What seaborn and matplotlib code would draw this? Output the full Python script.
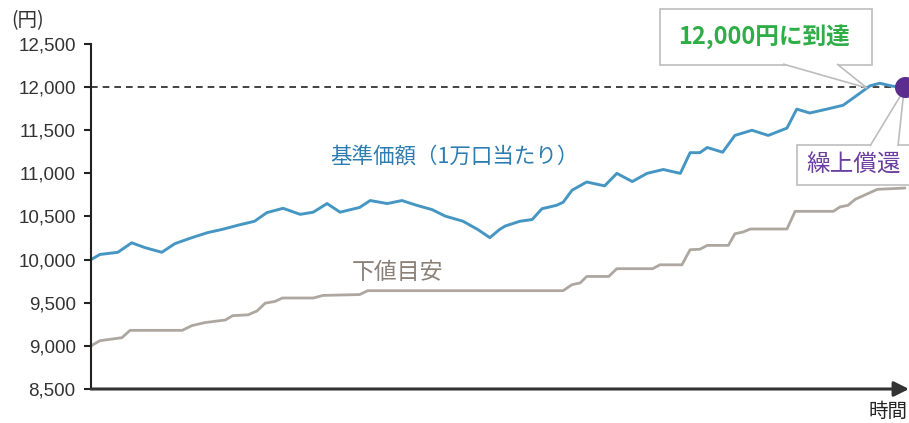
import pandas as pd
import matplotlib.pyplot as plt
import seaborn as sns
from matplotlib.patches import Rectangle, Polygon
from matplotlib.ticker import FuncFormatter

sns.set_style("white")
plt.rcParams['font.family'] = ['Liberation Sans', 'Noto Sans CJK JP', 'DejaVu Sans']
JP = ['Noto Sans CJK JP', 'DejaVu Sans']

# Data (time is an index 0-100 along the axis)
nav_t = [0, 1.1, 3.3, 5.0, 6.6, 8.7, 10.3, 12.4, 14.4, 16.1, 18.1, 20.1, 21.6, 23.6,
         25.7, 27.3, 29.0, 30.6, 33.0, 34.3, 36.4, 38.2, 40.0, 41.9, 43.5, 45.7, 47.5,
         49.0, 50.2, 50.9, 52.7, 54.2, 55.4, 57.2, 58.0, 59.1, 60.9, 63.1, 64.6, 66.5,
         68.3, 70.3, 72.4, 73.6, 74.8, 75.7, 77.6, 79.1, 81.2, 83.2, 85.5, 86.7, 88.3,
         90.4, 92.4, 94.1, 95.7, 96.9, 98.5, 100]
nav = [10000, 10060, 10085, 10195, 10140, 10085, 10185, 10255, 10315, 10350, 10400,
       10445, 10545, 10595, 10525, 10550, 10650, 10550, 10605, 10685, 10650, 10685,
       10630, 10580, 10505, 10445, 10350, 10255, 10350, 10390, 10445, 10465, 10590,
       10630, 10665, 10805, 10900, 10855, 11000, 10905, 11000, 11045, 11000, 11240,
       11240, 11300, 11245, 11440, 11500, 11440, 11525, 11745, 11700, 11745, 11790,
       11905, 12015, 12045, 12010, 12000]

floor_t = [0, 1.1, 3.8, 4.8, 11.2, 12.4, 14.0, 16.5, 17.4, 19.3, 20.4, 21.4, 22.6,
           23.5, 27.3, 28.5, 33.0, 34.0, 58.0, 59.1, 60.1, 60.9, 63.6, 64.6, 69.0,
           69.9, 72.6, 73.6, 74.8, 75.7, 78.3, 79.1, 80.1, 81.0, 85.5, 86.5, 91.2,
           92.0, 93.0, 93.9, 96.6, 100]
floor = [9000, 9060, 9095, 9180, 9180, 9235, 9270, 9300, 9350, 9360, 9405, 9495, 9515,
         9555, 9555, 9585, 9595, 9640, 9640, 9710, 9730, 9805, 9805, 9895, 9895, 9940,
         9940, 10115, 10120, 10165, 10165, 10300, 10320, 10355, 10355, 10560, 10560,
         10610, 10630, 10700, 10815, 10830]

target = 12000
yticks = [8500, 9000, 9500, 10000, 10500, 11000, 11500, 12000, 12500]

df_nav = pd.DataFrame({'t': nav_t, 'v': nav})
df_floor = pd.DataFrame({'t': floor_t, 'v': floor})

W, H = 909, 423
fig = plt.figure(figsize=(W / 100, H / 100), dpi=100)
ax = fig.add_axes([91 / W, 34 / H, 818 / W, 345 / H])


def px(x, y):
    # top-left pixel position -> figure fraction
    return (x / W, 1 - y / H)


sns.lineplot(data=df_floor, x='t', y='v', color='#ADA7A0', lw=2, ax=ax)
sns.lineplot(data=df_nav, x='t', y='v', color='#4596C2', lw=2.1, ax=ax)
ax.axhline(target, xmin=0, xmax=100 / 100.49, color='#222222', lw=1.2,
           ls=(0, (4, 3)), zorder=1)
ax.scatter([nav_t[-1]], [nav[-1]], s=200, color='#5B2D8E', zorder=9, clip_on=False)

ax.set_xlim(0, 818 / 8.14)
ax.set_ylim(8500, 12500)
ax.set_yticks(yticks)
ax.yaxis.set_major_formatter(FuncFormatter(lambda v, p: f'{int(v):,}'))
ax.set_xticks([])
ax.set_xlabel('')
ax.set_ylabel('')
for s in ['top', 'right', 'bottom']:
    ax.spines[s].set_visible(False)
ax.spines['left'].set_color('#222222')
ax.spines['left'].set_linewidth(1.5)
ax.tick_params(axis='y', left=True, length=5, width=1.5, color='#222222',
               labelsize=13.5, labelcolor='#333333', pad=6)

# time axis arrow
ax.annotate('', xy=(1, 0), xytext=(0, 0), xycoords='axes fraction',
            textcoords='axes fraction',
            arrowprops=dict(arrowstyle='-|>,head_length=0.9,head_width=0.45',
                            color='#333333', lw=2.2, shrinkA=0, shrinkB=0))
fig.text(*px(908, 422), '時間', ha='right', va='bottom',
         fontsize=14, color='#222222', family=JP)
fig.text(*px(11, 21), '(円)', ha='left', va='center',
         fontsize=14, color='#333333', family=JP)

# series labels
ax.text(44.7, 11200, '基準価額（1万口当たり）', ha='center', va='center',
        fontsize=15.5, color='#2D7DB0', family=JP)
ax.text(37.7, 9850, '下値目安', ha='center', va='center',
        fontsize=16.5, color='#8A8078', family=JP)

# callout boxes with pointers
box_kw = dict(fc='white', ec='#BDBDBD', lw=1.2, transform=fig.transFigure, clip_on=False)
x0, y0 = px(660, 65)
x1, y1 = px(872, 9)
ax.add_patch(Rectangle((x0, y0), x1 - x0, y1 - y0, zorder=7, **box_kw))
ax.add_patch(Polygon([px(783, 64), px(867, 88), px(837, 64)], closed=False,
                     zorder=8, **box_kw))
fig.text(*px(764, 37), '12,000円に到達', ha='center', va='center', zorder=10,
         fontsize=17, fontweight='bold', color='#2FAE47', family=JP)

x0, y0 = px(797, 185)
x1, y1 = px(916, 145)
ax.add_patch(Rectangle((x0, y0), x1 - x0, y1 - y0, zorder=7, **box_kw))
ax.add_patch(Polygon([px(870, 146), px(904, 90), px(898, 146)], closed=False,
                     zorder=8, **box_kw))
fig.text(*px(854, 165), '繰上償還', ha='center', va='center', zorder=10,
         fontsize=17, color='#6A3FA0', family=JP)

fig.savefig('out.png', dpi=100)
